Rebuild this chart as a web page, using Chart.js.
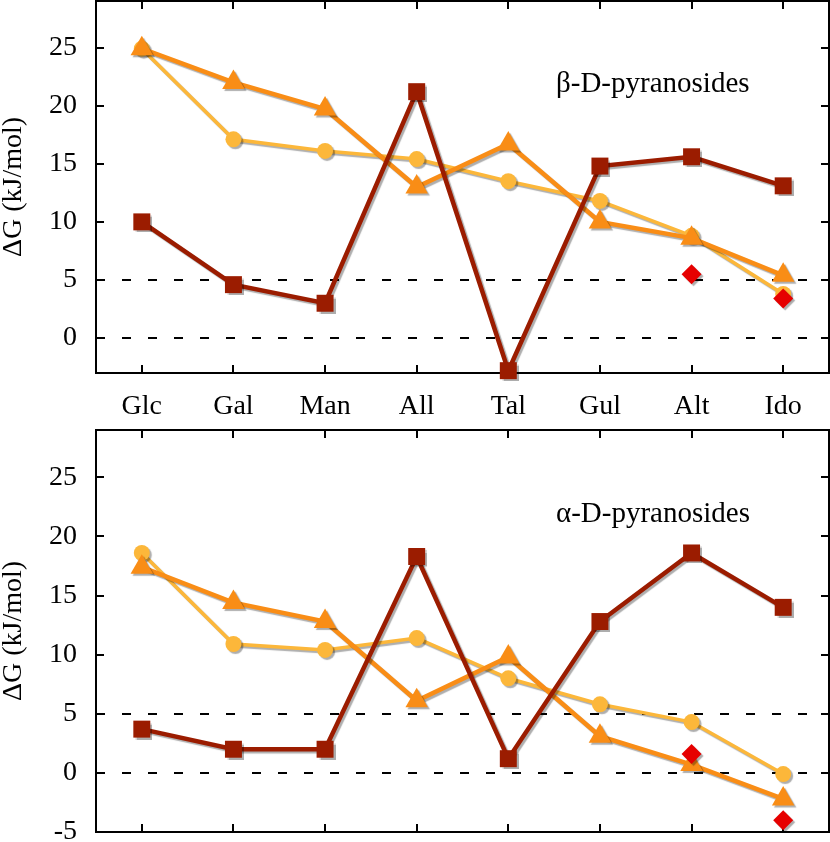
<!DOCTYPE html>
<html>
<head>
<meta charset="utf-8">
<script src="https://cdn.jsdelivr.net/npm/chart.js@4.4.0/dist/chart.umd.min.js"></script>
<style>
  html, body { margin: 0; padding: 0; background: #fff; }
  #topBox { position: absolute; left: 0; top: 0; width: 830px; height: 420px; }
  #bottomBox { position: absolute; left: 0; top: 420px; width: 830px; height: 422px; }
</style>
</head>
<body>
<div id="topBox"><canvas id="betaChart"></canvas></div>
<div id="bottomBox"><canvas id="alphaChart"></canvas></div>
<script>
// sugars on the x axis, y ticks, dashed reference levels
const sugars = ['Glc', 'Gal', 'Man', 'All', 'Tal', 'Gul', 'Alt', 'Ido'];
const yTickValues = [-5, 0, 5, 10, 15, 20, 25];
const dashedLevels = [0, 5];

// beta-D-pyranosides (top panel)
const betaSquares   = [10.0, 4.6, 3.0, 21.2, -2.8, 14.8, 15.6, 13.1];
const betaTriangles = [24.9, 22.0, 19.7, 13.0, 16.7, 10.0, 8.6, 5.4];
const betaCircles   = [24.9, 17.1, 16.1, 15.4, 13.5, 11.8, 8.8, 3.8];
const betaDiamonds  = [null, null, null, null, null, null, 5.5, 3.4];

// alpha-D-pyranosides (bottom panel)
const alphaSquares   = [3.7, 2.0, 2.0, 18.3, 1.2, 12.8, 18.6, 14.0];
const alphaTriangles = [17.4, 14.4, 12.8, 6.1, 9.8, 3.1, 0.7, -2.2];
const alphaCircles   = [18.6, 10.9, 10.4, 11.4, 8.0, 5.8, 4.3, -0.1];
const alphaDiamonds  = [null, null, null, null, null, null, 1.6, -4.0];

const FONT = "'Liberation Serif', 'Times New Roman', serif";
const FONT_SIZE = 28;

const COL_SQUARE = '#9b1c00';
const COL_TRIANGLE = '#f98d16';
const COL_CIRCLE = '#fcb73a';
const COL_DIAMOND = '#e60000';

// gray drop shadow under each dataset, like the original plot
const shadowPlugin = {
  id: 'shadow',
  beforeDatasetDraw(chart) {
    const ctx = chart.ctx;
    ctx.save();
    ctx.shadowColor = 'rgba(0,0,0,0.32)';
    ctx.shadowOffsetX = 2;
    ctx.shadowOffsetY = 2;
    ctx.shadowBlur = 1;
  },
  afterDatasetDraw(chart) {
    chart.ctx.restore();
  }
};

// box frame, inward tick marks, dashed lines and the panel label
const framePlugin = {
  id: 'frame',
  beforeDatasetsDraw(chart, args, opts) {
    const { ctx, chartArea: a, scales: { x, y } } = chart;
    ctx.save();
    ctx.strokeStyle = '#000';
    ctx.lineWidth = 2;

    ctx.setLineDash([9, 17]);
    dashedLevels.forEach(v => {
      const py = Math.round(y.getPixelForValue(v));
      ctx.beginPath();
      ctx.moveTo(a.left, py);
      ctx.lineTo(a.right, py);
      ctx.stroke();
    });
    ctx.setLineDash([]);

    const tl = 8;
    ctx.beginPath();
    y.ticks.forEach(t => {
      const py = Math.round(y.getPixelForValue(t.value));
      ctx.moveTo(a.left, py); ctx.lineTo(a.left + tl, py);
      ctx.moveTo(a.right, py); ctx.lineTo(a.right - tl, py);
    });
    x.ticks.forEach((t, i) => {
      const px = Math.round(x.getPixelForTick(i));
      ctx.moveTo(px, a.top); ctx.lineTo(px, a.top + tl);
      ctx.moveTo(px, a.bottom); ctx.lineTo(px, a.bottom - tl);
    });
    ctx.stroke();
    ctx.strokeRect(a.left, a.top, a.right - a.left, a.bottom - a.top);

    ctx.fillStyle = '#000';
    ctx.font = '29px ' + FONT;
    ctx.textBaseline = 'alphabetic';
    ctx.textAlign = 'left';
    ctx.fillText(opts.label, opts.labelX, opts.labelY);
    ctx.restore();
  }
};

function makeDatasets(squares, triangles, circles, diamonds) {
  return [
    { label: 'diamonds', data: diamonds, showLine: false, pointStyle: 'rectRot', pointRadius: 10,
      backgroundColor: COL_DIAMOND, borderColor: COL_DIAMOND, pointBorderWidth: 0, order: 0 },
    { label: 'squares', data: squares, borderColor: COL_SQUARE, backgroundColor: COL_SQUARE, borderWidth: 4.5,
      pointStyle: 'rect', pointRadius: 12, pointBorderWidth: 0, order: 1 },
    { label: 'triangles', data: triangles, borderColor: COL_TRIANGLE, backgroundColor: COL_TRIANGLE, borderWidth: 4.5,
      pointStyle: 'triangle', pointRadius: 13, pointBorderWidth: 0, order: 2 },
    { label: 'circles', data: circles, borderColor: COL_CIRCLE, backgroundColor: COL_CIRCLE, borderWidth: 3.5,
      pointStyle: 'circle', pointRadius: 8, pointBorderWidth: 0, order: 3 }
  ];
}

function makeChart(canvasId, cfg) {
  return new Chart(document.getElementById(canvasId), {
    type: 'line',
    data: { labels: sugars, datasets: makeDatasets(cfg.squares, cfg.triangles, cfg.circles, cfg.diamonds) },
    options: {
      responsive: true,
      maintainAspectRatio: false,
      animation: false,
      clip: false,
      layout: { autoPadding: false, padding: { top: cfg.padTop, right: 1, left: 0, bottom: 0 } },
      elements: { line: { tension: 0 } },
      plugins: {
        legend: { display: false },
        tooltip: { enabled: false },
        frame: { label: cfg.label, labelX: 556, labelY: cfg.labelY }
      },
      scales: {
        x: {
          type: 'category',
          offset: true,
          grid: { display: false, drawTicks: false },
          border: { display: false },
          ticks: { display: cfg.showX, color: '#000', font: { family: FONT, size: FONT_SIZE }, padding: 17, maxRotation: 0 },
          afterFit: s => { s.height = cfg.xHeight; s.paddingLeft = 0; s.paddingRight = 0; }
        },
        y: {
          min: cfg.min,
          max: cfg.max,
          grid: { display: false, drawTicks: false },
          border: { display: false },
          afterBuildTicks: s => {
            s.ticks = yTickValues.filter(v => v >= s.min && v <= s.max).map(v => ({ value: v }));
          },
          ticks: { color: '#000', font: { family: FONT, size: FONT_SIZE }, padding: 19 },
          title: { display: true, text: 'ΔG (kJ/mol)', color: '#000', font: { family: FONT, size: FONT_SIZE }, padding: { top: -3, bottom: 0 } },
          afterFit: s => { s.width = 96; s.paddingTop = 0; s.paddingBottom = 0; }
        }
      }
    },
    plugins: [framePlugin, shadowPlugin]
  });
}

makeChart('betaChart', {
  squares: betaSquares, triangles: betaTriangles, circles: betaCircles, diamonds: betaDiamonds,
  min: -3, max: 29, padTop: 1, xHeight: 47, showX: true, label: 'β-D-pyranosides', labelY: 92
});

makeChart('alphaChart', {
  squares: alphaSquares, triangles: alphaTriangles, circles: alphaCircles, diamonds: alphaDiamonds,
  min: -5, max: 29, padTop: 10, xHeight: 10, showX: false, label: 'α-D-pyranosides', labelY: 102
});
</script>
</body>
</html>
